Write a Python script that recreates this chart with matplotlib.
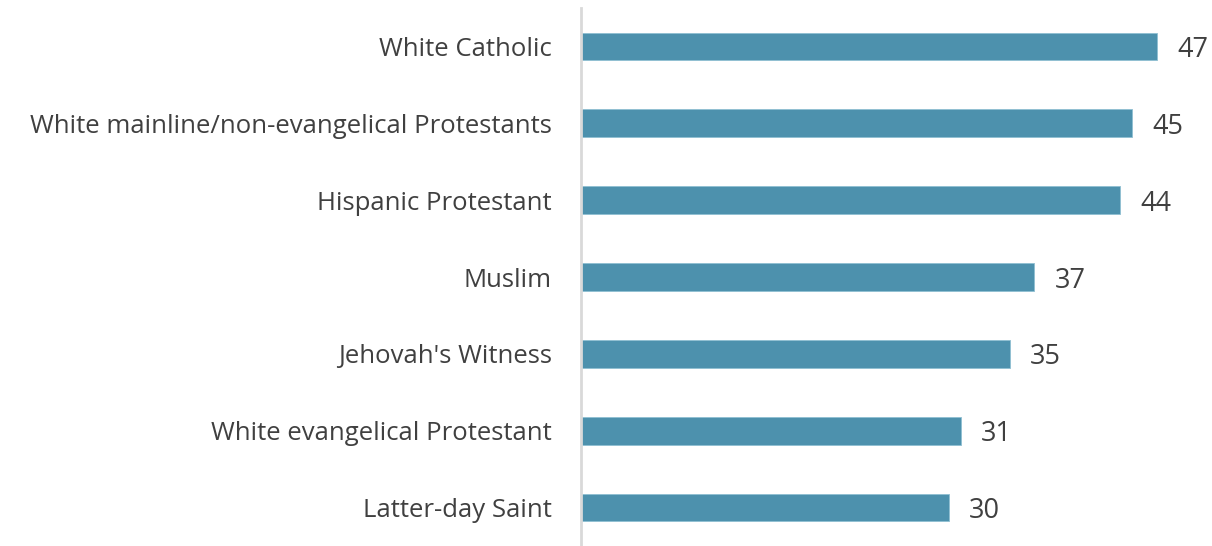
import matplotlib.pyplot as plt

# data
categories = [
    'White Catholic',
    'White mainline/non-evangelical Protestants',
    'Hispanic Protestant',
    'Muslim',
    "Jehovah's Witness",
    'White evangelical Protestant',
    'Latter-day Saint',
]
values = [47, 45, 44, 37, 35, 31, 30]

bar_color = '#4d91ad'
text_color = '#404040'

plt.rcParams['font.family'] = ['Open Sans', 'DejaVu Sans']

fig = plt.figure(figsize=(12.12, 5.46), dpi=100)
ax = fig.add_axes([0.4794, 0.0, 0.5206, 0.9853])

ypos = list(range(len(categories)))
ax.barh(ypos, values, height=0.36, color=bar_color, edgecolor='#8fbfd2', linewidth=0.6)

for y, v in zip(ypos, values):
    ax.text(v + 1.65, y, str(v), va='center_baseline', ha='left', fontsize=19.5, color=text_color)

ax.set_yticks(ypos)
ax.set_yticklabels(categories, fontsize=18.5, color=text_color, va='center_baseline')
ax.tick_params(axis='y', length=0, pad=21)
ax.set_xticks([])
ax.set_xlim(0, 51.5)
ax.set_ylim(6.5, -0.5)

for side in ['top', 'right', 'bottom']:
    ax.spines[side].set_visible(False)
ax.spines['left'].set_color('#d9d9d9')
ax.spines['left'].set_linewidth(2)

fig.savefig('out.png', dpi=100)
